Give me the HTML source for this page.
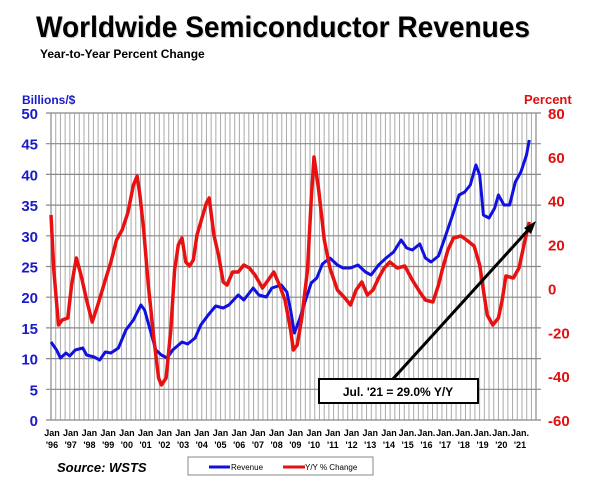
<!DOCTYPE html>
<html><head><meta charset="utf-8"><style>
body{margin:0;background:#fff;width:600px;height:491px;overflow:hidden;font-family:"Liberation Sans",Arial,sans-serif}
</style></head><body>
<svg id="s" width="600" height="491" xmlns="http://www.w3.org/2000/svg" font-family="Liberation Sans, Arial, sans-serif">
<text x="37" y="38" font-size="30" font-weight="bold" fill="#aaa" opacity="0.5" textLength="494" lengthAdjust="spacingAndGlyphs">Worldwide Semiconductor Revenues</text>
<text x="36" y="37" font-size="30" font-weight="bold" fill="#000" textLength="494" lengthAdjust="spacingAndGlyphs">Worldwide Semiconductor Revenues</text>
<text x="40" y="58" font-size="12" font-weight="bold" fill="#000">Year-to-Year Percent Change</text>
<text x="22" y="104" font-size="12" font-weight="bold" fill="#1a1ac8">Billions/$</text>
<text x="524" y="104" font-size="13" font-weight="bold" fill="#e01010">Percent</text>
<g id="grid"></g>
<g id="labels"></g>
<polyline id="blue" fill="none" stroke="#1010e0" stroke-width="3" stroke-linejoin="round"/>
<polyline id="red" fill="none" stroke="#e81010" stroke-width="3.5" stroke-linejoin="round"/>
<line x1="392" y1="380" x2="530" y2="228" stroke="#000" stroke-width="3"/>
<polygon points="536,221 524,228 531,234" fill="#000"/>
<rect x="319" y="379" width="159" height="24" fill="#fff" stroke="#000" stroke-width="2"/>
<text x="398" y="396" font-size="12" font-weight="bold" text-anchor="middle">Jul. '21 = 29.0% Y/Y</text>
<text x="57" y="472" font-size="13" font-weight="bold" font-style="italic">Source: WSTS</text>
<rect x="188" y="457" width="185" height="18" fill="#fff" stroke="#888" stroke-width="1"/>
<line x1="209" y1="467" x2="230" y2="467" stroke="#1010e0" stroke-width="3"/>
<text x="231" y="470" font-size="8">Revenue</text>
<line x1="283" y1="467" x2="305" y2="467" stroke="#e81010" stroke-width="3"/>
<text x="305" y="470" font-size="8">Y/Y % Change</text>
</svg>
<script>
var NS="http://www.w3.org/2000/svg";
var L=51,R=536,T=113,B=420;
function X(t){return L+(t-1996)*18.72}
function el(p,n,a,txt){var e=document.createElementNS(NS,n);for(var k in a)e.setAttribute(k,a[k]);if(txt!=null)e.textContent=txt;p.appendChild(e);return e}
var g=document.getElementById('grid'),lb=document.getElementById('labels');
for(var i=0;i<=103;i++){var x=L+i*4.71;if(x>R)break;el(g,'line',{x1:x,y1:T,x2:x,y2:B,stroke:'#aaa','stroke-width':1})}
for(var v=0;v<=50;v+=5){var y=B-v*6.14;el(g,'line',{x1:L-5,y1:y,x2:R+5,y2:y,stroke:'#888','stroke-width':1.2});
el(lb,'text',{x:38,y:y+6,'font-size':15,'font-weight':'bold',fill:'#1a1ac8','text-anchor':'end'},v)}
el(g,'line',{x1:L,y1:T,x2:L,y2:B,stroke:'#888','stroke-width':1.2});el(g,'line',{x1:R,y1:T,x2:R,y2:B,stroke:'#888','stroke-width':1.2});
for(var p=80;p>=-60;p-=20){var y=T+(80-p)*2.193;el(lb,'text',{x:548,y:y+6,'font-size':15,'font-weight':'bold',fill:'#e01010'},p)}
var yrs=['96','97','98','99','00','01','02','03','04','05','06','07','08','09','10','11','12','13','14','15','16','17','18','19','20','21'];
for(var i=0;i<26;i++){var x=X(1996+i)+1,j=i>=19?'Jan.':'Jan';
el(lb,'text',{x:x,y:436,'font-size':9,'font-weight':'bold','text-anchor':'middle'},j);
el(lb,'text',{x:x,y:448,'font-size':9,'font-weight':'bold','text-anchor':'middle'},"'"+yrs[i])}
var red=[[1996,215],[1996.15,270],[1996.4,325],[1996.6,320],[1996.9,318],[1997.1,285],[1997.35,258],[1997.6,275],[1997.9,300],[1998.2,322],[1998.5,305],[1998.9,280],[1999.2,262],[1999.5,240],[1999.8,230],[2000.1,213],[2000.4,185],[2000.6,176],[2000.75,195],[2000.95,230],[2001.2,285],[2001.5,340],[2001.75,378],[2001.9,385],[2002.15,378],[2002.4,330],[2002.6,270],[2002.8,245],[2003.0,238],[2003.2,262],[2003.4,266],[2003.6,260],[2003.8,235],[2004.0,222],[2004.3,203],[2004.45,198],[2004.7,235],[2004.95,255],[2005.2,282],[2005.4,285],[2005.7,272],[2006.0,272],[2006.3,265],[2006.6,268],[2006.9,275],[2007.3,288],[2007.6,280],[2007.9,272],[2008.2,285],[2008.5,300],[2008.8,330],[2008.95,350],[2009.15,345],[2009.4,318],[2009.7,270],[2009.9,200],[2010.05,157],[2010.3,190],[2010.6,240],[2010.9,268],[2011.3,290],[2011.7,298],[2012.0,305],[2012.3,290],[2012.6,282],[2012.9,295],[2013.2,290],[2013.5,278],[2013.8,268],[2014.1,262],[2014.5,268],[2014.9,266],[2015.3,280],[2015.7,292],[2016.0,300],[2016.4,302],[2016.7,285],[2016.9,270],[2017.2,250],[2017.5,238],[2017.9,236],[2018.2,240],[2018.6,246],[2018.9,265],[2019.1,290],[2019.3,315],[2019.6,325],[2019.9,318],[2020.1,300],[2020.3,276],[2020.7,278],[2021.0,268],[2021.3,242],[2021.55,222]];
var blue=[[1996,342],[1996.3,350],[1996.5,358],[1996.8,353],[1997.0,356],[1997.3,350],[1997.7,348],[1997.9,355],[1998.3,357],[1998.6,360],[1998.9,352],[1999.2,353],[1999.6,348],[2000.0,330],[2000.4,320],[2000.8,305],[2001.0,310],[2001.3,330],[2001.6,350],[2001.9,355],[2002.2,358],[2002.5,350],[2003.0,342],[2003.3,344],[2003.7,338],[2004.0,325],[2004.4,315],[2004.8,306],[2005.2,308],[2005.5,305],[2006.0,295],[2006.3,300],[2006.8,288],[2007.1,295],[2007.5,297],[2007.8,288],[2008.3,285],[2008.6,292],[2008.8,310],[2009.0,333],[2009.3,318],[2009.6,300],[2009.9,283],[2010.2,278],[2010.5,264],[2010.9,258],[2011.3,265],[2011.6,268],[2012.0,268],[2012.4,265],[2012.8,272],[2013.1,275],[2013.5,265],[2013.9,258],[2014.3,252],[2014.7,240],[2015.0,248],[2015.3,250],[2015.7,244],[2016.0,258],[2016.3,262],[2016.7,256],[2017.0,240],[2017.4,218],[2017.8,195],[2018.1,192],[2018.4,185],[2018.7,165],[2018.9,175],[2019.1,215],[2019.4,218],[2019.7,208],[2019.9,195],[2020.2,205],[2020.5,205],[2020.8,182],[2021.1,172],[2021.4,155],[2021.55,140]];
function pts(a){return a.map(function(p){return X(p[0]).toFixed(1)+','+p[1]}).join(' ')}
document.getElementById('red').setAttribute('points',pts(red));
document.getElementById('blue').setAttribute('points',pts(blue));
</script>
</body></html>
